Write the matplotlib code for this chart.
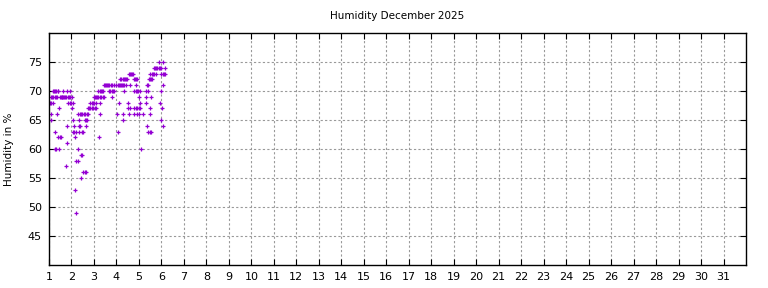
import matplotlib
matplotlib.use("Agg")
import matplotlib.pyplot as plt

title = "Humidity December 2025"
ylabel = "Humidity in %"
x_ticks = list(range(1, 32))
y_ticks = [45, 50, 55, 60, 65, 70, 75]

# readings grouped by humidity value: (value, [day positions])
rows = [
    (75, [5.89, 6.07]),
    (74, [5.65, 5.70, 5.76, 5.82, 5.88, 5.93, 5.98, 6.16]),
    (73, [4.56, 4.60, 4.65, 4.70, 4.73, 5.50, 5.56, 5.62, 5.68, 5.77, 6.00, 6.05, 6.10, 6.16]),
    (72, [4.17, 4.22, 4.27, 4.32, 4.37, 4.42, 4.47, 4.76, 4.81, 4.86, 4.91, 5.44, 5.48, 5.54, 5.60]),
    (71, [3.43, 3.48, 3.53, 3.58, 3.63, 3.68, 3.74, 3.79, 3.91, 3.99, 4.05, 4.10, 4.16,
          4.20, 4.25, 4.30, 4.35, 4.41, 4.59, 4.88, 5.36, 5.42, 6.07]),
    (70, [1.18, 1.22, 1.27, 1.32, 1.38, 1.42, 1.63, 1.78, 1.93, 3.20, 3.25, 3.30, 3.35, 3.40,
          3.67, 3.72, 3.78, 3.85, 3.91, 4.35, 4.80, 4.85, 4.90, 4.96, 5.03, 5.30, 5.40, 5.98]),
    (69, [1.08, 1.13, 1.20, 1.26, 1.30, 1.34, 1.48, 1.52, 1.56, 1.60, 1.64, 1.68, 1.72, 1.76,
          1.85, 1.90, 1.95, 2.01, 2.99, 3.04, 3.10, 3.15, 3.20, 3.26, 3.32, 3.38, 3.43, 3.79,
          5.00, 5.30, 5.53]),
    (68, [1.00, 1.04, 1.10, 1.16, 1.86, 1.92, 1.98, 2.05, 2.84, 2.90, 2.96, 3.02, 3.08, 3.28,
          4.10, 4.53, 5.03, 5.30, 5.92]),
    (67, [1.46, 2.03, 2.72, 2.78, 2.84, 2.90, 2.96, 3.03, 3.08, 4.53, 4.62, 4.80, 4.86, 4.92,
          5.00, 5.06, 5.47, 6.04]),
    (66, [1.08, 1.34, 2.31, 2.36, 2.42, 2.48, 2.55, 2.62, 2.68, 2.75, 3.28, 4.02, 4.29, 4.56,
          4.80, 4.90, 5.00, 5.20, 5.50]),
    (65, [1.08, 2.07, 2.35, 2.58, 2.64, 2.70, 4.29, 5.98]),
    (64, [1.81, 2.12, 2.34, 2.40, 2.66, 5.36, 6.07]),
    (63, [1.28, 2.08, 2.13, 2.19, 2.35, 2.47, 2.53, 4.06, 5.42, 5.48, 5.53]),
    (62, [1.40, 1.47, 1.55, 2.14, 3.22]),
    (61, [1.78]),
    (60, [1.26, 1.31, 1.46, 2.28, 5.09]),
    (59, [2.41, 2.47]),
    (58, [2.22, 2.27]),
    (57, [1.77]),
    (56, [2.50, 2.58, 2.66]),
    (55, [2.42]),
    (53, [2.17]),
    (49, [2.22]),
]

days = []
humidity = []
for val, ds in rows:
    for d in ds:
        days.append(d)
        humidity.append(val)

fig = plt.figure(figsize=(7.68, 2.88), dpi=100)
ax = fig.add_axes([49/768, 1-265/288, (746-49)/768, (265-33)/288])

ax.plot(days, humidity, linestyle="none", marker="+", color="#9400d3",
        markersize=3, markeredgewidth=0.9, clip_on=True)

ax.set_xlim(1, 32)
ax.set_ylim(40, 80)
ax.set_xticks(x_ticks)
ax.set_xticklabels([str(t) for t in x_ticks])
ax.set_yticks(y_ticks)
ax.grid(True, color="#999999", linestyle=(0, (2, 2)), linewidth=0.8)
ax.set_axisbelow(True)
ax.tick_params(direction="in", top=True, right=True, length=4, width=0.8,
               labelsize=8, pad=5)
for s in ax.spines.values():
    s.set_linewidth(1.0)
ax.set_title(title, fontsize=7.5, pad=10)
ax.set_ylabel(ylabel, fontsize=7.5, labelpad=10)

fig.savefig("out.png", dpi=100)
